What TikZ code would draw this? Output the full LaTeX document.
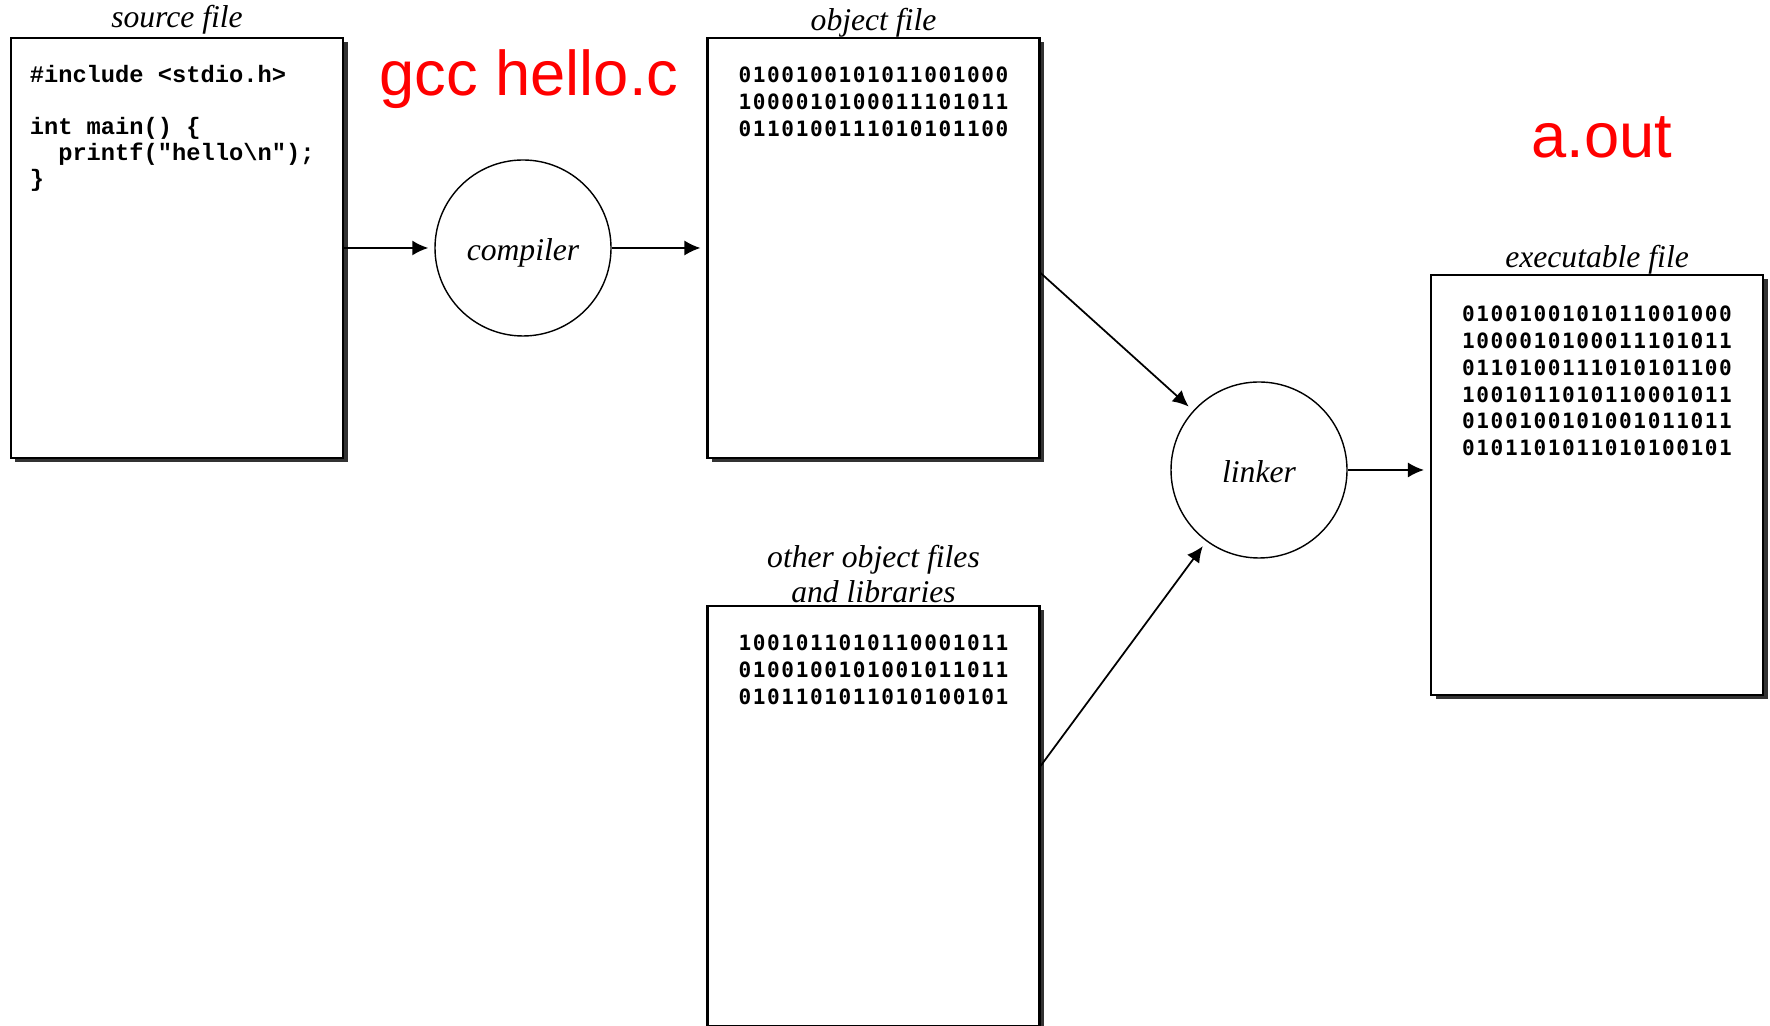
\documentclass[tikz,border=0pt]{standalone}
\usepackage{fontspec}
\setmainfont{Liberation Serif}
\newfontfamily\codefont{Liberation Mono}
\newfontfamily\bitsfont[LetterSpace=7.5]{DejaVu Sans Mono}
\newfontfamily\cmdfont{Liberation Sans}
\usetikzlibrary{arrows.meta,shadows}

\tikzset{
  file/.style={draw, line width=1.2pt, fill=white, minimum width=6.64cm, minimum height=8.4cm,
    drop shadow={shadow xshift=0.09cm, shadow yshift=-0.09cm, fill=black!80, opacity=1}},
  tool/.style={draw, circle, line width=0.8pt, minimum size=3.52cm, text height=18pt, text depth=4pt,
    font=\fontsize{18}{20}\selectfont\itshape},
  flabel/.style={font=\fontsize{18}{20}\selectfont\itshape, inner sep=1pt, anchor=base, align=center},
  bits/.style={font=\bitsfont\bfseries\fontsize{12}{15.3}\selectfont, align=left, anchor=north, inner sep=0pt},
  code/.style={font=\codefont\bfseries\fontsize{13.5}{14.7}\selectfont, align=left, anchor=north west, inner sep=0pt},
  cmd/.style={font=\cmdfont\fontsize{36}{40}\selectfont, text=red, anchor=base},
  flow/.style={-{Latex[length=0.32cm,width=0.3cm]}, line width=1pt, shorten >=0.12cm}
}

\begin{document}
\begin{tikzpicture}
\useasboundingbox (0,0) rectangle (35.4,20.5);

% files
\node[file] (src) at (3.54,15.54) {};
\node[file] (obj) at (17.47,15.54) {};
\node[file] (oth) at (17.47,4.18) {};
\node[file] (exe) at (31.94,10.8) {};

\node[flabel] (srclbl) at ([yshift=0.19cm]src.north) {source file};
\node[flabel] (objlbl) at ([yshift=0.12cm]obj.north) {object file};
\node[flabel, anchor=south] (othlbl) at (oth.north) {other object files\\and libraries};
\node[flabel] (exelbl) at ([yshift=0.12cm]exe.north) {executable file};

% contents
\node[code] (srctxt) at ([xshift=0.39cm,yshift=-0.57cm]src.north west) {\#include <stdio.h>\\\mbox{}\\int main() \{\\\phantom{ii}printf("hello\textbackslash n");\\\}};
\node[bits] (objtxt) at ([yshift=-0.59cm]obj.north) {0100100101011001000\\1000010100011101011\\0110100111010101100};
\node[bits] (othtxt) at ([yshift=-0.6cm]oth.north) {1001011010110001011\\0100100101001011011\\0101101011010100101};
\node[bits] (exetxt) at ([yshift=-0.63cm]exe.north) {0100100101011001000\\1000010100011101011\\0110100111010101100\\1001011010110001011\\0100100101001011011\\0101101011010100101};

% tools
\node[tool] (comp) at (10.46,15.54) {compiler};
\node[tool] (link) at (25.18,11.1) {linker};

% commands
\node[cmd] (gcc) at (10.58,18.58) {gcc hello.c};
\node[cmd] (aout) at (32.04,17.34) {a.out};

\draw[flow] (src.east) -- (comp);
\draw[flow] (comp) -- (obj.west);
\draw[flow] ([yshift=-0.5cm]obj.east) -- (link);
\draw[flow] ([yshift=1cm]oth.east) -- (link);
\draw[flow] (link) -- (link -| exe.west);
\end{tikzpicture}
\end{document}
